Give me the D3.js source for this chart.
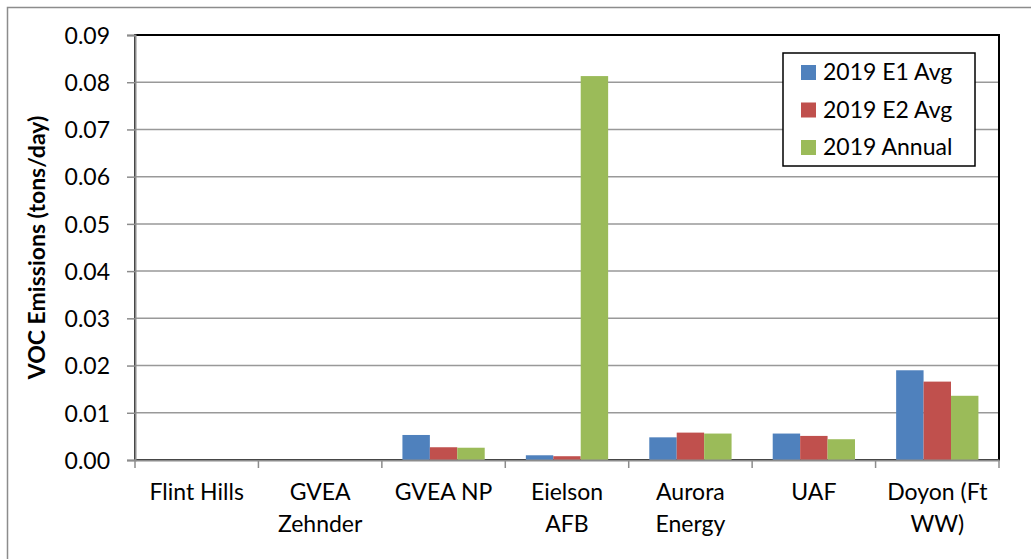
<!DOCTYPE html>
<meta charset="utf-8">
<script src="https://d3js.org/d3.v7.min.js"></script>
<style>
  body { margin: 0; background: #fff; }
  text { font-family: Lato, "Open Sans", sans-serif; fill: #000; }
</style>
<div id="chart"></div>
<script>
// data (tons/day)
var sites = ["Flint Hills", "GVEA Zehnder", "GVEA NP", "Eielson AFB", "Aurora Energy", "UAF", "Doyon (Ft WW)"];
var siteLines = [["Flint Hills"], ["GVEA", "Zehnder"], ["GVEA NP"], ["Eielson", "AFB"], ["Aurora", "Energy"], ["UAF"], ["Doyon (Ft", "WW)"]];
var seriesNames = ["2019 E1 Avg", "2019 E2 Avg", "2019 Annual"];
var e1Avg = [0, 0, 0.0053, 0.0010, 0.0048, 0.0056, 0.0190];
var e2Avg = [0, 0, 0.0027, 0.0008, 0.0058, 0.0051, 0.0166];
var annual = [0, 0, 0.0026, 0.0813, 0.0056, 0.0044, 0.0136];
var yTicks = [0, 0.01, 0.02, 0.03, 0.04, 0.05, 0.06, 0.07, 0.08, 0.09];
var colors = ["#4f81bd", "#c0504d", "#9bbb59"];

var W = 1031, H = 559;
var pLeft = 135, pRight = 999, pTop = 35, pBottom = 460;
var fs = "23px";

var svg = d3.select("#chart").append("svg")
    .attr("width", W).attr("height", H);

// outer chart frame (right/bottom edges fall outside the picture)
svg.append("rect")
    .attr("x", 7.5).attr("y", 7.5)
    .attr("width", 1040).attr("height", 570)
    .attr("fill", "none").attr("stroke", "#8c8c8c").attr("stroke-width", 1.5);

var x = d3.scaleBand().domain(sites).range([pLeft, pRight]).padding(0);
var step = x.bandwidth() / 4.5;
var xSub = d3.scaleBand().domain(seriesNames).range([step * 0.75, step * 3.75]).padding(0);
var y = d3.scaleLinear().domain([0, 0.09]).range([pBottom, pTop]);

// gridlines
svg.append("g").selectAll("line")
    .data(yTicks.slice(1, -1))
    .enter().append("line")
    .attr("x1", pLeft).attr("x2", pRight)
    .attr("y1", function(d) { return y(d); })
    .attr("y2", function(d) { return y(d); })
    .attr("stroke", "#999").attr("stroke-width", 1.5);

// plot area border
svg.append("rect")
    .attr("x", pLeft).attr("y", pTop)
    .attr("width", pRight - pLeft).attr("height", pBottom - pTop)
    .attr("fill", "none").attr("stroke", "#000").attr("stroke-width", 2);

// bars
var table = sites.map(function(s, i) {
    return { site: s, values: [e1Avg[i], e2Avg[i], annual[i]] };
});
svg.append("g").selectAll("g")
    .data(table)
    .enter().append("g")
    .attr("transform", function(d) { return "translate(" + x(d.site) + ",0)"; })
    .selectAll("rect")
    .data(function(d) { return d.values.map(function(v, k) { return { key: seriesNames[k], value: v, k: k }; }); })
    .enter().append("rect")
    .attr("x", function(d) { return xSub(d.key); })
    .attr("y", function(d) { return y(d.value); })
    .attr("width", xSub.bandwidth())
    .attr("height", function(d) { return pBottom - y(d.value); })
    .attr("fill", function(d) { return colors[d.k]; });

// y axis
var yAxis = svg.append("g")
    .attr("transform", "translate(" + pLeft + ",0)")
    .call(d3.axisLeft(y).tickValues(yTicks).tickFormat(d3.format(".2f")).tickSize(8).tickPadding(17));
yAxis.select(".domain").attr("stroke", "#8c8c8c").attr("stroke-width", 2);
yAxis.selectAll(".tick line").attr("stroke", "#8c8c8c").attr("stroke-width", 1.5);
yAxis.selectAll(".tick text").style("font-size", fs).attr("fill", "#000").attr("dy", "0.36em");

// x axis
var xAxis = svg.append("g")
    .attr("transform", "translate(0," + pBottom + ")")
    .call(d3.axisBottom(x).tickSize(0).tickFormat(""));
xAxis.select(".domain").attr("stroke", "#8c8c8c").attr("stroke-width", 2);
svg.append("g").selectAll("line")
    .data(sites.map(function(s) { return x(s); }).concat([pRight]))
    .enter().append("line")
    .attr("x1", function(d) { return d; }).attr("x2", function(d) { return d; })
    .attr("y1", pBottom).attr("y2", pBottom + 8)
    .attr("stroke", "#8c8c8c").attr("stroke-width", 1.5);

svg.append("g").selectAll("text")
    .data(sites)
    .enter().append("text")
    .attr("x", function(d) { return x(d) + x.bandwidth() / 2; })
    .attr("y", 500)
    .attr("text-anchor", "middle")
    .style("font-size", fs)
    .each(function(d, i) {
        var t = d3.select(this);
        siteLines[i].forEach(function(line, j) {
            t.append("tspan")
                .attr("x", x(d) + x.bandwidth() / 2)
                .attr("dy", j === 0 ? 0 : 32)
                .text(line);
        });
    });

// y axis title
svg.append("text")
    .attr("transform", "translate(45," + ((pTop + pBottom) / 2) + ") rotate(-90)")
    .attr("text-anchor", "middle")
    .style("font-size", fs)
    .style("font-weight", "bold")
    .text("VOC Emissions (tons/day)");

// legend
var legend = svg.append("g").attr("transform", "translate(783,53)");
legend.append("rect")
    .attr("width", 192).attr("height", 113)
    .attr("fill", "#fff").attr("stroke", "#000").attr("stroke-width", 1.5);
var item = legend.selectAll("g.item")
    .data(seriesNames)
    .enter().append("g")
    .attr("class", "item")
    .attr("transform", function(d, i) { return "translate(18," + (19 + i * 37.5) + ")"; });
item.append("rect")
    .attr("y", -7).attr("width", 15).attr("height", 15)
    .attr("fill", function(d, i) { return colors[i]; });
item.append("text")
    .attr("x", 22).attr("dy", "0.36em")
    .style("font-size", fs)
    .text(function(d) { return d; });
</script>
